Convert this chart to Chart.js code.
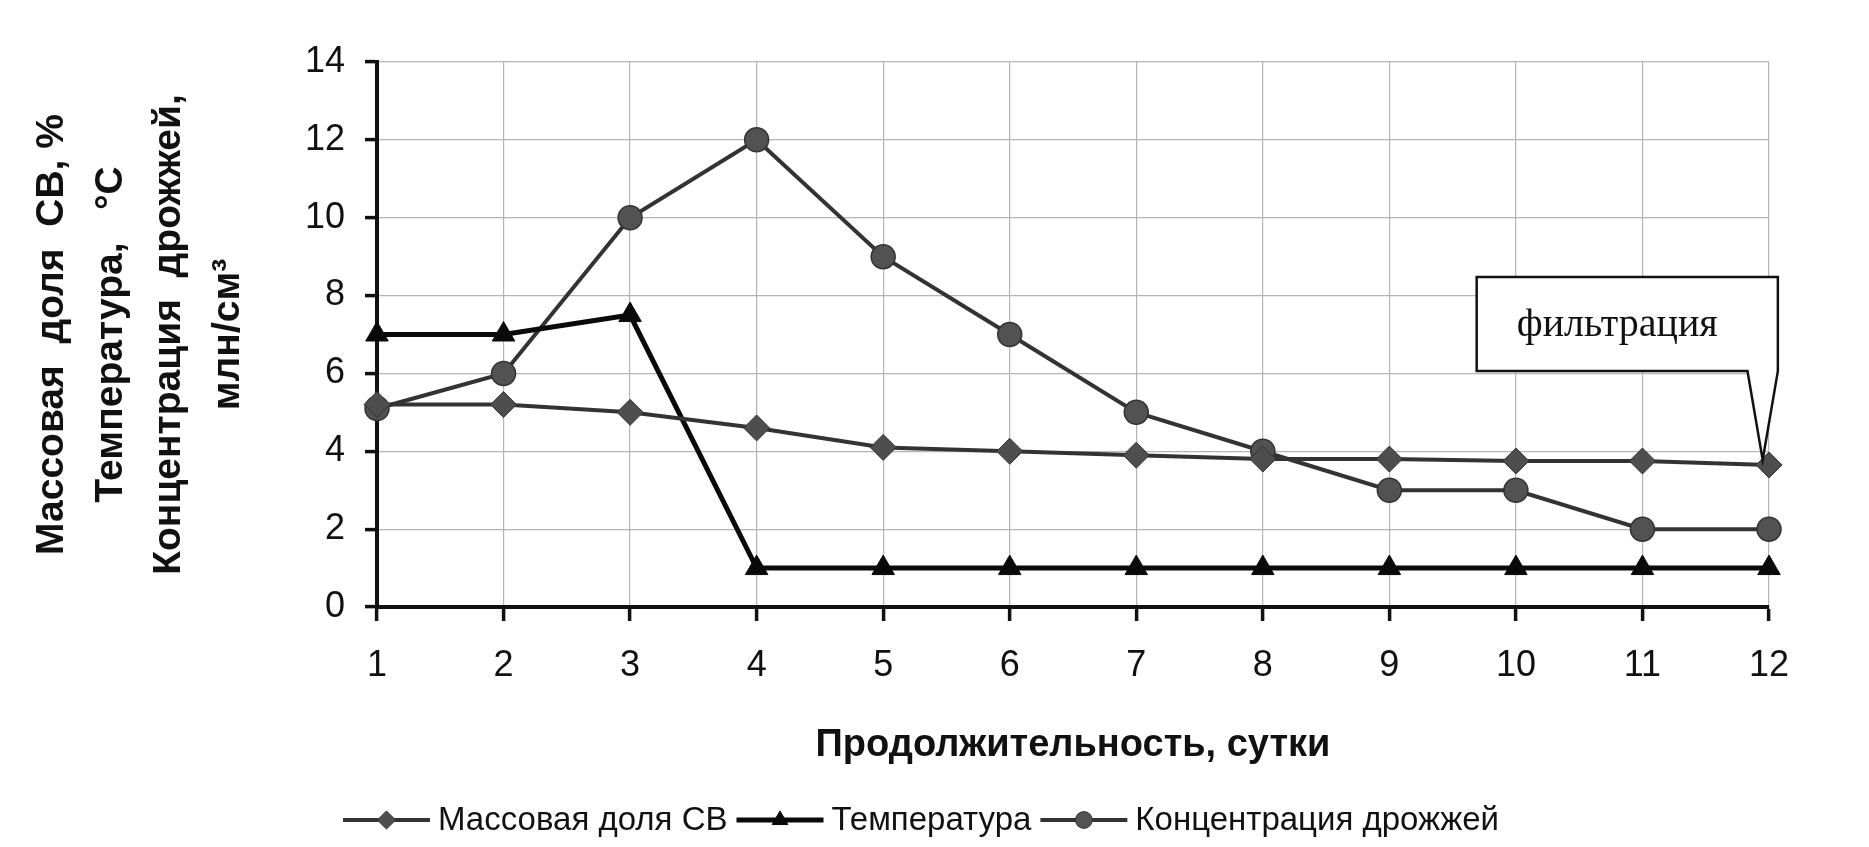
<!DOCTYPE html>
<html>
<head>
<meta charset="utf-8">
<script src="https://cdn.jsdelivr.net/npm/chart.js@4.4.1/dist/chart.umd.min.js"></script>
<style>
  html, body { margin: 0; padding: 0; background: #fff; }
  #wrap { width: 1869px; height: 847px; }
</style>
</head>
<body>
<div id="wrap"><canvas id="myChart" width="1869" height="847"></canvas></div>
<script>
// данные графика
const days = ['1', '2', '3', '4', '5', '6', '7', '8', '9', '10', '11', '12'];
const massDolya = [5.2, 5.2, 5.0, 4.6, 4.1, 4.0, 3.9, 3.8, 3.8, 3.75, 3.75, 3.65];
const temperatura = [7, 7, 7.5, 1, 1, 1, 1, 1, 1, 1, 1, 1];
const kontsentratsiya = [5.1, 6, 10, 12, 9, 7, 5, 4, 3, 3, 2, 2];
const yTicks = [0, 2, 4, 6, 8, 10, 12, 14];

const seriesNames = ['Массовая доля СВ', 'Температура', 'Концентрация дрожжей'];
const yTitle = ['Массовая  доля  СВ, %', 'Температура,   °С', 'Концентрация  дрожжей,', 'млн/см³'];
const xTitle = 'Продолжительность, сутки';
const noteText = 'фильтрация';

// легенда (линия + маркер как в Excel)
const legendPlugin = {
  id: 'excelLegend',
  afterDraw(chart) {
    const ctx = chart.ctx;
    const sets = chart.data.datasets;
    const iconW = 87, gapIn = 8, gapOut = 9;
    ctx.save();
    ctx.font = '33px "Liberation Sans", Arial, sans-serif';
    let total = 0;
    const widths = sets.map(function (ds) { return ctx.measureText(ds.label).width; });
    widths.forEach(function (w, i) {
      total += iconW + gapIn + w + (i < widths.length - 1 ? gapOut : 0);
    });
    let x = 921 - total / 2;
    const y = 820;
    sets.forEach(function (ds, i) {
      ctx.strokeStyle = ds.borderColor;
      ctx.lineWidth = ds.borderWidth;
      ctx.beginPath();
      ctx.moveTo(x, y);
      ctx.lineTo(x + iconW, y);
      ctx.stroke();
      ctx.fillStyle = ds.pointBackgroundColor;
      ctx.strokeStyle = ds.pointBorderColor;
      ctx.lineWidth = 1;
      Chart.helpers.drawPoint(ctx, {
        pointStyle: ds.pointStyle,
        radius: ds.pointRadius * 0.7,
        rotation: 0,
        borderWidth: 1
      }, x + iconW / 2, y);
      ctx.fillStyle = '#111';
      ctx.textBaseline = 'middle';
      ctx.textAlign = 'left';
      ctx.fillText(ds.label, x + iconW + gapIn, y + 1);
      x += iconW + gapIn + widths[i] + gapOut;
    });
    ctx.restore();
  }
};

// выноска "фильтрация"
const notePlugin = {
  id: 'note',
  afterDatasetsDraw(chart) {
    const xs = chart.scales.x, ys = chart.scales.y;
    const px = function (v) { return xs.getPixelForValue(v - 1); };
    const py = function (v) { return ys.getPixelForValue(v); };
    const x1 = px(9.69), x2 = px(12.07), y1 = py(8.48), y2 = py(6.06);
    const pa = px(11.83), tx = px(11.95), ty = py(3.78);
    const ctx = chart.ctx;
    ctx.save();
    ctx.beginPath();
    ctx.moveTo(x1, y1);
    ctx.lineTo(x2, y1);
    ctx.lineTo(x2, y2);
    ctx.lineTo(tx, ty);
    ctx.lineTo(pa, y2);
    ctx.lineTo(x1, y2);
    ctx.closePath();
    ctx.fillStyle = '#fff';
    ctx.fill();
    ctx.strokeStyle = '#111';
    ctx.lineWidth = 2.5;
    ctx.stroke();
    ctx.fillStyle = '#111';
    ctx.font = '40px "Liberation Serif", "Times New Roman", serif';
    ctx.textAlign = 'center';
    ctx.textBaseline = 'middle';
    ctx.fillText(noteText, (x1 + x2) / 2 - 10, (y1 + y2) / 2 + 2);
    ctx.restore();
  }
};

const ctx = document.getElementById('myChart').getContext('2d');
const chart = new Chart(ctx, {
  type: 'line',
  data: {
    labels: days,
    datasets: [{
      label: seriesNames[0],
      data: massDolya,
      borderColor: '#333',
      borderWidth: 4,
      pointStyle: 'rectRot',
      pointRadius: 13,
      pointBackgroundColor: '#4e4e4e',
      pointBorderColor: '#333',
      pointBorderWidth: 1
    }, {
      label: seriesNames[1],
      data: temperatura,
      borderColor: '#0a0a0a',
      borderWidth: 5,
      pointStyle: 'triangle',
      pointRadius: 13,
      pointBackgroundColor: '#0a0a0a',
      pointBorderColor: '#0a0a0a',
      pointBorderWidth: 1
    }, {
      label: seriesNames[2],
      data: kontsentratsiya,
      borderColor: '#333',
      borderWidth: 4,
      pointStyle: 'circle',
      pointRadius: 12,
      pointBackgroundColor: '#525252',
      pointBorderColor: '#333',
      pointBorderWidth: 1.5
    }]
  },
  options: {
    responsive: false,
    animation: false,
    events: [],
    layout: { padding: { left: 20, right: 100, top: 62, bottom: 47 } },
    elements: { line: { tension: 0 } },
    plugins: {
      legend: { display: false },
      tooltip: { enabled: false }
    },
    scales: {
      x: {
        type: 'category',
        offset: false,
        grid: { color: '#b4b4b4', lineWidth: 1.2, tickColor: '#111', tickWidth: 3.5, tickLength: 14 },
        border: { color: '#111', width: 4 },
        ticks: {
          color: '#111',
          padding: 23,
          maxRotation: 0,
          font: { family: '"Liberation Sans", Arial, sans-serif', size: 36 }
        },
        title: {
          display: true,
          text: xTitle,
          color: '#111',
          padding: { top: 0, bottom: 32 },
          font: { family: '"Liberation Sans", Arial, sans-serif', size: 38, weight: 'bold' }
        },
        afterFit(scale) { scale.height = 193; }
      },
      y: {
        min: 0,
        max: 14,
        afterBuildTicks(scale) { scale.ticks = yTicks.map(function (v) { return { value: v }; }); },
        grid: { color: '#b4b4b4', lineWidth: 1.2, tickColor: '#111', tickWidth: 3.5, tickLength: 12 },
        border: { color: '#111', width: 4 },
        ticks: {
          color: '#111',
          padding: 20,
          font: { family: '"Liberation Sans", Arial, sans-serif', size: 36 }
        },
        title: {
          display: true,
          text: yTitle,
          color: '#111',
          padding: { top: 3, bottom: 0 },
          font: { family: '"Liberation Sans", Arial, sans-serif', size: 39, weight: 'bold', lineHeight: 1.5 }
        },
        afterFit(scale) { scale.width = 357; }
      }
    }
  },
  plugins: [notePlugin, legendPlugin]
});
</script>
</body>
</html>
